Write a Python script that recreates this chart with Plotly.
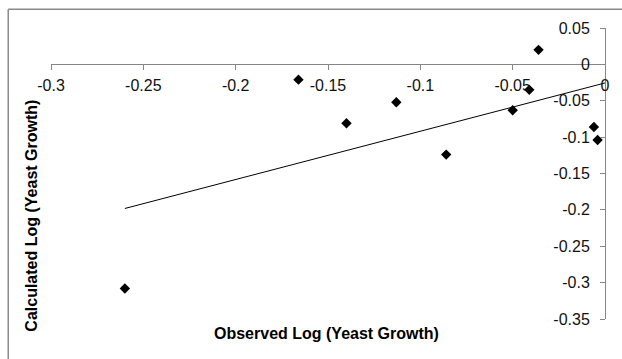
import numpy as np
import plotly.graph_objects as go

# Data
observed = [-0.260, -0.166, -0.140, -0.113, -0.086, -0.050, -0.041, -0.036, -0.006, -0.004]
calculated = [-0.308, -0.021, -0.081, -0.052, -0.124, -0.063, -0.035, 0.020, -0.086, -0.104]

x_tickvals = [-0.3, -0.25, -0.2, -0.15, -0.1, -0.05, 0]
x_ticktext = ["-0.3", "-0.25", "-0.2", "-0.15", "-0.1", "-0.05", "0"]
y_tickvals = [0.05, 0, -0.05, -0.1, -0.15, -0.2, -0.25, -0.3, -0.35]
y_ticktext = ["0.05", "0", "-0.05", "-0.1", "-0.15", "-0.2", "-0.25", "-0.3", "-0.35"]

# Linear trendline fitted to the data
slope, intercept = np.polyfit(observed, calculated, 1)
trend_x = np.array([min(observed), 0.0])
trend_y = slope * trend_x + intercept

W, H = 622, 359
L, R = 51.3, 608.3
T, B = 27.9, 319.3
pw, ph = R - L, B - T

def px(x):
    return (x - L) / pw

def py(y):
    return (B - y) / ph

fig = go.Figure()
fig.add_trace(go.Scatter(x=trend_x, y=trend_y, mode="lines",
                         line=dict(color="black", width=1), hoverinfo="skip"))
fig.add_trace(go.Scatter(x=observed, y=calculated, mode="markers",
                         marker=dict(symbol="diamond", size=8, color="black")))

font = dict(family="Liberation Sans, Arial, sans-serif", size=16, color="#111111")
axis_color = "#868686"

fig.update_layout(
    width=W, height=H,
    margin=dict(l=L, r=W - R, t=T, b=H - B, pad=0),
    paper_bgcolor="white", plot_bgcolor="white",
    showlegend=False,
    font=font,
    xaxis=dict(range=[-0.3, 0], tickvals=x_tickvals, ticktext=x_ticktext,
               showgrid=False, zeroline=False, showline=True, linecolor=axis_color,
               linewidth=1, ticks="outside", ticklen=5, tickcolor=axis_color,
               anchor="free", position=0.875, side="bottom", tickfont=font,
               ticklabelstandoff=1),
    yaxis=dict(range=[-0.35, 0.05], tickvals=y_tickvals, ticktext=y_ticktext,
               showgrid=False, zeroline=False, showline=True, linecolor=axis_color,
               linewidth=1, ticks="outside", ticklen=5, tickcolor=axis_color,
               anchor="free", position=1.0, side="left", tickfont=font,
               ticklabelstandoff=7),
    annotations=[
        dict(text="<b>Observed Log (Yeast Growth)</b>", xref="paper", yref="paper",
             x=px(328), y=py(334), showarrow=False, xanchor="center", yanchor="middle",
             font=dict(family="Liberation Sans, Arial, sans-serif", size=16, color="black")),
        dict(text="<b>Calculated Log (Yeast Growth)</b>", xref="paper", yref="paper",
             x=px(32), y=py(216), showarrow=False, xanchor="center", yanchor="middle",
             textangle=-90,
             font=dict(family="Liberation Sans, Arial, sans-serif", size=16, color="black")),
    ],
    shapes=[
        dict(type="line", xref="paper", yref="paper", x0=px(8.3), x1=px(8.3),
             y0=py(9), y1=py(370), line=dict(color="#8a8a8a", width=1.5)),
        dict(type="line", xref="paper", yref="paper", x0=px(8.3), x1=px(640),
             y0=py(9), y1=py(9), line=dict(color="#8a8a8a", width=1.5)),
    ],
)

fig.write_html("out.html")
